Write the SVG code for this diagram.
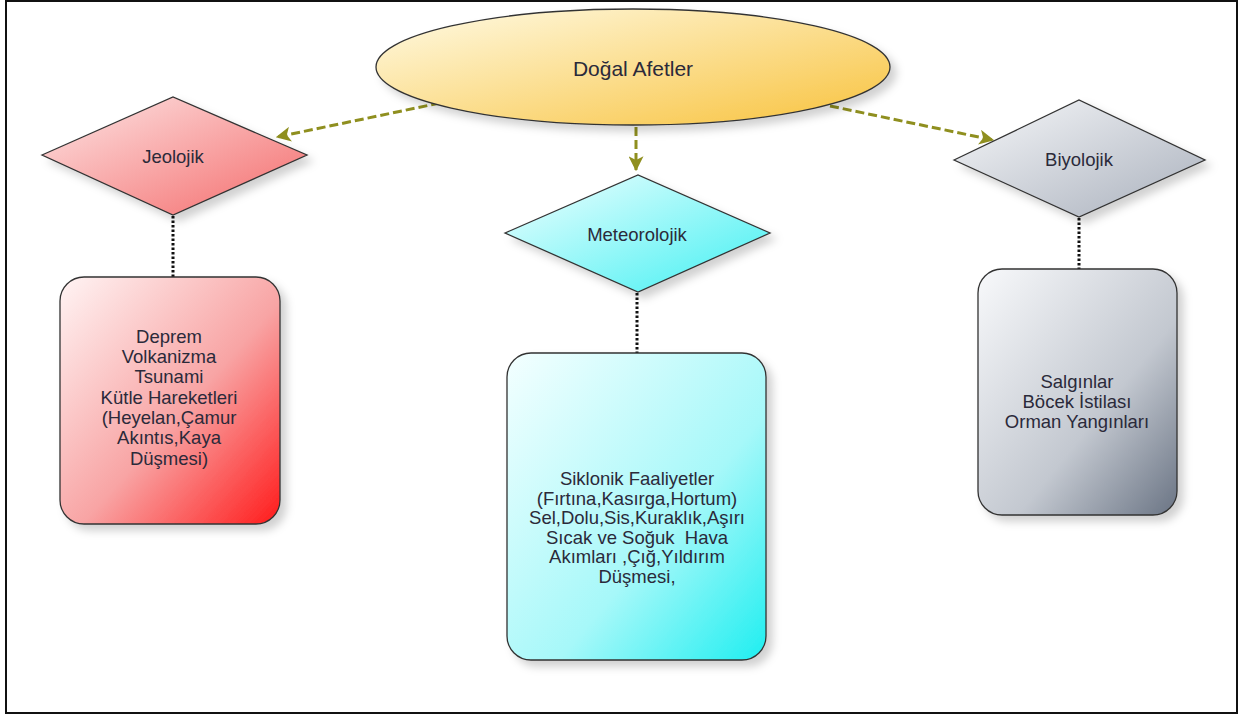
<svg xmlns="http://www.w3.org/2000/svg" width="1243" height="716" viewBox="0 0 1243 716">
<defs>
<style>
.t{font-family:"Liberation Sans",Arial,sans-serif;font-size:18.5px;fill:#2b2a3a;text-anchor:middle;dominant-baseline:central;white-space:pre}
.big{font-size:21px}
.shape{stroke:#333;stroke-width:1.3}
.arrow{fill:none;stroke:#8f8f1f;stroke-width:3;stroke-dasharray:9 4}
.dot{fill:none;stroke:#111;stroke-width:3;stroke-dasharray:2.5 2}
</style>
<linearGradient id="gY" x1="0" y1="0" x2="1" y2="1"><stop offset="0" stop-color="#fffbe6"/><stop offset="1" stop-color="#f8c23c"/></linearGradient>
<linearGradient id="gP" x1="0" y1="0" x2="1" y2="1"><stop offset="0" stop-color="#fde6e6"/><stop offset="1" stop-color="#f46a6a"/></linearGradient>
<linearGradient id="gR" x1="0" y1="0" x2="1" y2="1"><stop offset="0" stop-color="#fff4f4"/><stop offset="0.55" stop-color="#f8a4a4"/><stop offset="1" stop-color="#ff1a1a"/></linearGradient>
<linearGradient id="gC" x1="0" y1="0" x2="1" y2="1"><stop offset="0" stop-color="#f2ffff"/><stop offset="1" stop-color="#3ff0f2"/></linearGradient>
<linearGradient id="gC2" x1="0" y1="0" x2="1" y2="1"><stop offset="0" stop-color="#f4ffff"/><stop offset="0.6" stop-color="#a6f8f9"/><stop offset="1" stop-color="#1eeef0"/></linearGradient>
<linearGradient id="gG" x1="0" y1="0" x2="1" y2="1"><stop offset="0" stop-color="#f7f8fa"/><stop offset="1" stop-color="#a9b0bc"/></linearGradient>
<linearGradient id="gG2" x1="0" y1="0" x2="1" y2="1"><stop offset="0" stop-color="#f8f9fb"/><stop offset="0.6" stop-color="#c3c8d0"/><stop offset="1" stop-color="#6a7484"/></linearGradient>
<filter id="sh" x="-10%" y="-10%" width="130%" height="130%"><feDropShadow dx="6" dy="6" stdDeviation="4" flood-color="#000" flood-opacity="0.18"/></filter>
<marker id="ah" viewBox="0 0 12 12" refX="11" refY="6" markerWidth="5" markerHeight="5" orient="auto" markerUnits="strokeWidth"><path d="M0,0 L12,6 L0,12 L3,6 Z" fill="#8f8f1f"/></marker>
</defs>
<rect x="6" y="1" width="1231" height="712" fill="#fff" stroke="#111" stroke-width="2"/>
<g id="connectors">
<path class="arrow" d="M440,103 L277,137" marker-end="url(#ah)"/>
<path class="arrow" d="M636,127 L636,170" marker-end="url(#ah)"/>
<path class="arrow" d="M830,106 L993,140" marker-end="url(#ah)"/>
<path class="dot" d="M173,216 L173,277"/>
<path class="dot" d="M637,293 L637,353"/>
<path class="dot" d="M1079,218 L1079,269"/>
</g>
<g id="dogal-afetler">
<ellipse class="shape" cx="633" cy="67" rx="257" ry="58" fill="url(#gY)" filter="url(#sh)"/>
<text class="t big" x="633" y="68">Doğal Afetler</text>
</g>
<g id="jeolojik">
<polygon class="shape" points="42,155 173,97 307,155 173,215" fill="url(#gP)" filter="url(#sh)"/>
<text class="t" x="173" y="156">Jeolojik</text>
</g>
<g id="meteorolojik">
<polygon class="shape" points="505,233 638,175 770,233 638,292" fill="url(#gC)" filter="url(#sh)"/>
<text class="t" x="637" y="234">Meteorolojik</text>
</g>
<g id="biyolojik">
<polygon class="shape" points="954,160 1079,100 1205,160 1079,217" fill="url(#gG)" filter="url(#sh)"/>
<text class="t" x="1079" y="159">Biyolojik</text>
</g>
<g id="jeolojik-box">
<rect class="shape" x="60" y="277" width="220" height="247" rx="24" fill="url(#gR)" filter="url(#sh)"/>
<text class="t" x="169" y="336">Deprem</text>
<text class="t" x="169" y="356">Volkanizma</text>
<text class="t" x="169" y="376">Tsunami</text>
<text class="t" x="169" y="397">Kütle Hareketleri</text>
<text class="t" x="169" y="417">(Heyelan,Çamur</text>
<text class="t" x="169" y="437">Akıntıs,Kaya</text>
<text class="t" x="169" y="458">Düşmesi)</text>
</g>
<g id="meteorolojik-box">
<rect class="shape" x="507" y="353" width="259" height="307" rx="24" fill="url(#gC2)" filter="url(#sh)"/>
<text class="t" x="637" y="478">Siklonik Faaliyetler</text>
<text class="t" x="637" y="498">(Fırtına,Kasırga,Hortum)</text>
<text class="t" x="637" y="517">Sel,Dolu,Sis,Kuraklık,Aşırı</text>
<text class="t" x="637" y="537" xml:space="preserve">Sıcak ve Soğuk  Hava</text>
<text class="t" x="637" y="556">Akımları ,Çığ,Yıldırım</text>
<text class="t" x="637" y="576">Düşmesi,</text>
</g>
<g id="biyolojik-box">
<rect class="shape" x="978" y="269" width="199" height="246" rx="24" fill="url(#gG2)" filter="url(#sh)"/>
<text class="t" x="1077" y="381">Salgınlar</text>
<text class="t" x="1077" y="401">Böcek İstilası</text>
<text class="t" x="1077" y="421">Orman Yangınları</text>
</g>
</svg>
